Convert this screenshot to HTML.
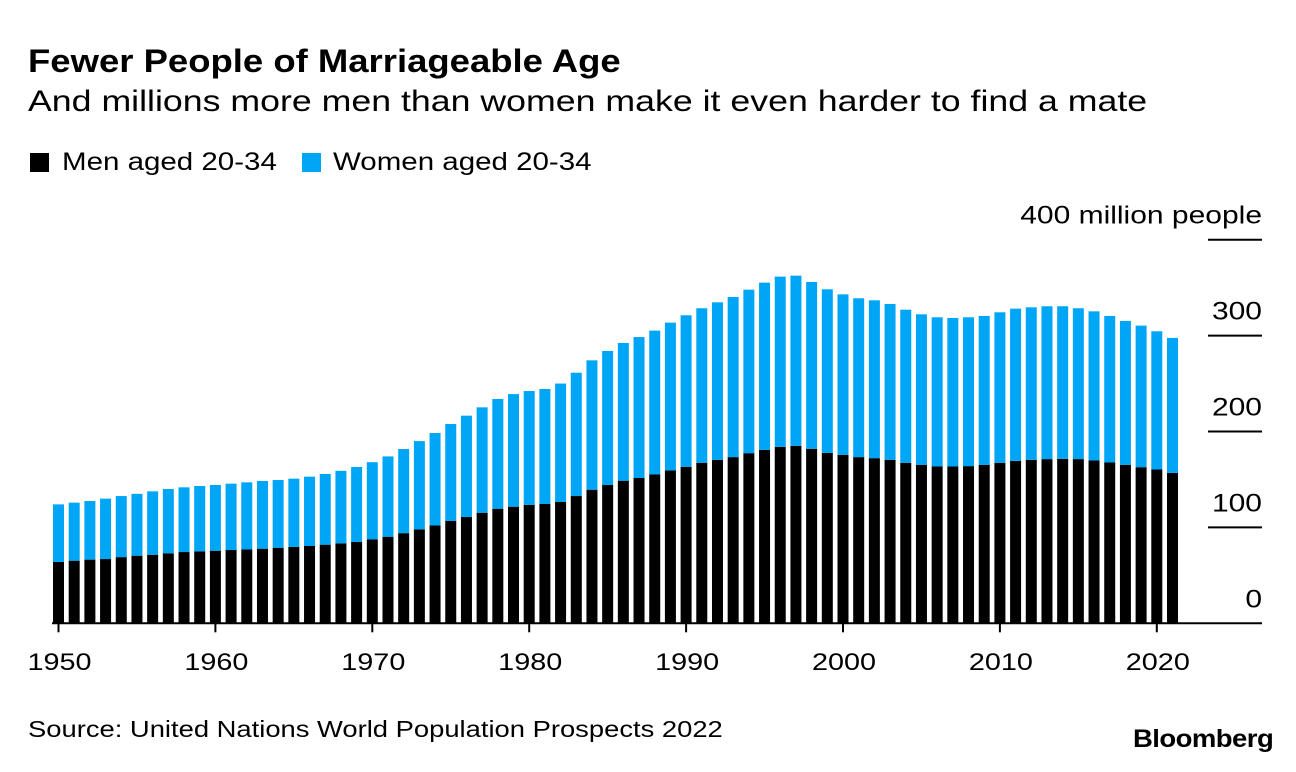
<!DOCTYPE html>
<html><head><meta charset="utf-8"><style>
body{margin:0;background:#fff;width:1296px;height:772px;overflow:hidden;font-family:"Liberation Sans",sans-serif;color:#000}
.t{position:absolute;white-space:nowrap;transform-origin:0 0}
</style></head><body>
<div class="t" style="left:28px;top:43px;font-size:32px;font-weight:bold;transform:scaleX(1.14)">Fewer People of Marriageable Age</div>
<div class="t" style="left:28px;top:85px;font-size:30px;transform:scaleX(1.19)">And millions more men than women make it even harder to find a mate</div>
<div style="position:absolute;left:30px;top:153px;width:19px;height:19px;background:#000"></div>
<div class="t" style="left:62px;top:148px;font-size:25px;transform:scaleX(1.18)">Men aged 20-34</div>
<div style="position:absolute;left:302px;top:153px;width:19px;height:19px;background:#00a6f6"></div>
<div class="t" style="left:333px;top:148px;font-size:25px;transform:scaleX(1.18)">Women aged 20-34</div>
<svg id="chart" width="1296" height="772" style="position:absolute;left:0;top:0"></svg>
<div class="t" style="left:28px;top:716px;font-size:23px;transform:scaleX(1.19)">Source: United Nations World Population Prospects 2022</div>
<div class="t" style="left:1133px;top:725px;font-size:25px;font-weight:bold;letter-spacing:-0.5px;transform:scaleX(1.1)">Bloomberg</div>
<script>
const years=[];for(let y=1950;y<=2021;y++)years.push(y);
const menValues=[64,65.3,66.4,67,69,70.5,71.5,73,74.3,75,75.7,76.4,77,77.8,78.8,79.6,80.6,82,83.4,85,87.6,90.3,94,98,102,106.7,110.8,115.3,119.5,121.6,123.4,124.4,126.5,132.7,139.3,144.2,148.7,151.5,155.2,159.4,163.2,167.4,170.5,173.3,177.4,180.9,184,185.1,182,177.8,175.7,173.3,172.2,170.5,167.4,165.3,163.5,163.5,163.9,165.3,167.4,169.4,170.5,171.2,171.5,171.2,169.8,167.7,165.3,162.8,160.4,156.9];
const womenValues=[60,60.5,61.1,63,63.7,64.5,66.1,67,67.5,68.2,68.5,69.2,70,70.6,70.6,71.2,72.3,73.7,75.6,78,80.4,83.7,87.7,92,96.4,101.1,105.7,109.9,114.4,117.4,118.8,119.9,123.5,128.6,134.9,139.8,143.6,147,150,154.1,158,161.1,164.2,167,170.5,174.3,177.5,177.4,173.9,170.5,167.3,165.6,164.6,162.5,159.6,156.9,155.6,154.9,155.2,155.2,156.9,158.7,159,159.4,159.1,157.3,155.5,152.8,150,147.6,144.1,140.7];
const yTicks=[0,100,200,300,400];
const yTickLabels=["0","100","200","300","400 million people"];
const xTicks=[1950,1960,1970,1980,1990,2000,2010,2020];

const svg=document.getElementById('chart');
const NS='http://www.w3.org/2000/svg';
const y0=623.3,pxPer=0.959;
const yS=v=>y0-v*pxPer;
const xS=yr=>58.5+(yr-1950)*15.69;
const bw=11;
function mk(tag,at){const e=document.createElementNS(NS,tag);for(const k in at)e.setAttribute(k,at[k]);svg.appendChild(e);return e;}
years.forEach((yr,i)=>{
  const m=menValues[i],w=womenValues[i];
  const b1=mk('rect',{x:xS(yr)-bw/2,y:yS(m),width:bw,height:y0-yS(m),fill:'#000'});
  
  
  const b2=mk('rect',{x:xS(yr)-bw/2,y:yS(m+w),width:bw,height:yS(m)-yS(m+w),fill:'#00a6f6'});
  
  
});
yTicks.forEach((v,i)=>{
  if(v>0){const g=mk('line',{x1:1208,x2:1262,y1:yS(v),y2:yS(v),stroke:'#000','stroke-width':2});
  
  }
  const t=mk('text',{x:0,y:0,transform:'translate(1262,'+(yS(v)-16)+') scale(1.2,1)','text-anchor':'end','font-size':25,'font-family':'Liberation Sans, sans-serif'});
  t.textContent=yTickLabels[i];
  
  
});
const ax=mk('line',{x1:52,x2:1262,y1:y0,y2:y0,stroke:'#000','stroke-width':2});


xTicks.forEach(yr=>{
  const tk=mk('line',{x1:xS(yr),x2:xS(yr),y1:y0,y2:y0+9,stroke:'#000','stroke-width':2});
  
  
  const t=mk('text',{x:0,y:0,transform:'translate('+(xS(yr)+1)+',670) scale(1.2,1)','text-anchor':'middle','font-size':24,'font-family':'Liberation Sans, sans-serif'});
  t.textContent=yr;
  
  
});
</script>
</body></html>
